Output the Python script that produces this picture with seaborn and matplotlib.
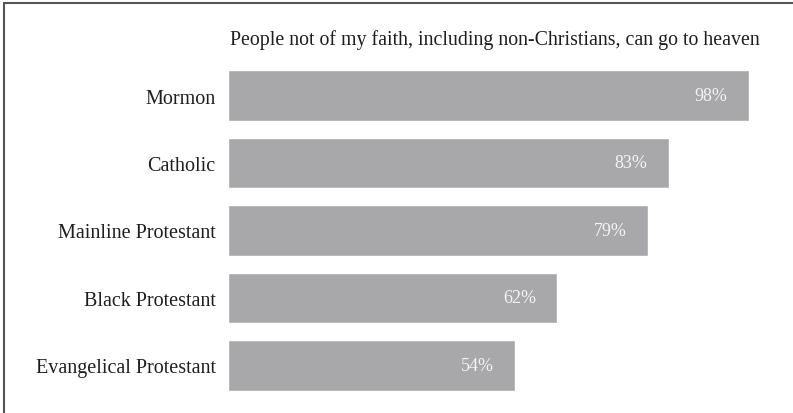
import matplotlib
matplotlib.use("Agg")
import matplotlib.pyplot as plt
from matplotlib.lines import Line2D
import seaborn as sns
import pandas as pd

categories = ["Mormon", "Catholic", "Mainline Protestant", "Black Protestant", "Evangelical Protestant"]
values = [98, 83, 79, 62, 54]
title = "People not of my faith, including non-Christians, can go to heaven"

sns.set_theme(style="white")
plt.rcParams['font.family'] = ['Liberation Serif', 'DejaVu Serif']

W, H = 793, 414
fig = plt.figure(figsize=(W / 100, H / 100), dpi=100)
ax = fig.add_axes([228 / W, (H - 400.25) / H, 558 / W, 337.5 / H])

df = pd.DataFrame({"group": categories, "pct": values})
sns.barplot(data=df, x="pct", y="group", orient="h", color="#a8a8ab",
            saturation=1, width=0.755, ax=ax)

ax.set_xlim(0, 105)
ax.set_ylim(4.5, -0.5)
ax.set_xlabel("")
ax.set_ylabel("")
ax.set_xticks([])
for s in ax.spines.values():
    s.set_visible(False)
ax.tick_params(axis="y", length=0, pad=9, labelsize=14.5, labelcolor="#1e1e1e")

for i, v in enumerate(values):
    ax.annotate(f"{v}%", xy=(v, i), xytext=(-15.5, 0), textcoords="offset points",
                ha="right", va="center", color="#f4f4f4", fontsize=13)

fig.text(230 / W, 1 - 40 / H, title, ha="left", va="center", fontsize=14.3, color="#1e1e1e")

fig.add_artist(Line2D([4 / W, 4 / W], [0, 1 - 4 / H], color="#555555", lw=1.5))
fig.add_artist(Line2D([4 / W, 1], [1 - 4 / H, 1 - 4 / H], color="#555555", lw=1.5))

fig.savefig("out.png", dpi=100)
